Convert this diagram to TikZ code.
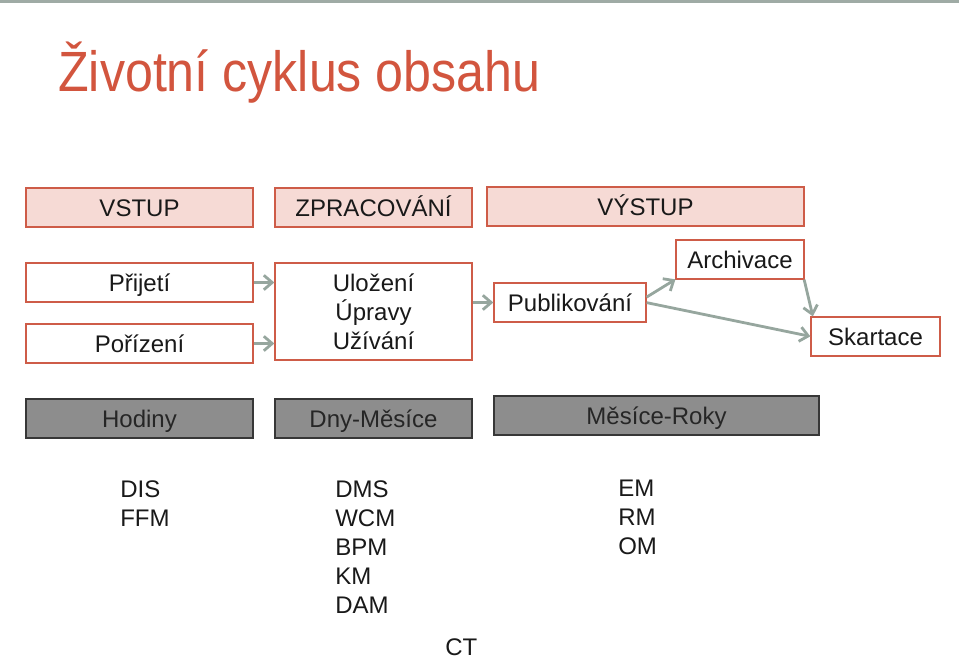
\documentclass[tikz,border=0pt]{standalone}
\usepackage{fontspec}
\setmainfont{Liberation Sans}
\usetikzlibrary{arrows.meta, positioning}
\definecolor{titleRed}{RGB}{210,85,62}
\definecolor{boxRed}{RGB}{206,92,72}
\definecolor{boxPink}{RGB}{246,218,213}
\definecolor{arrowGrey}{RGB}{150,166,158}
\definecolor{barGrey}{RGB}{141,141,141}
\definecolor{barEdge}{RGB}{55,55,55}
\tikzset{%
  >={Straight Barb[length=2.2mm,width=3.8mm]},
  % Specifications for style of nodes:
    base/.style = {rectangle, draw=boxRed, line width=1.5pt, minimum height=29.25pt,
                   inner sep=0pt, outer sep=0pt, text centered, text=black!90,
                   text height=13pt, text depth=0pt,
                   font=\fontsize{18}{21.75}\selectfont},
    phase/.style = {base, fill=boxPink},
    stage/.style = {base, fill=white},
    period/.style = {base, draw=barEdge, fill=barGrey, text=black!85},
    tools/.style = {inner sep=0pt, align=left, anchor=north west, text=black!90,
                   font=\fontsize{18}{21.75}\selectfont},
    flow/.style = {->, draw=arrowGrey, line width=2.1pt, shorten <=0.5pt, shorten >=0.5pt},
}

\begin{document}
\begin{tikzpicture}[x=0.75pt, y=-0.75pt]
  \useasboundingbox (0,0) rectangle (959,660);
  \fill[arrowGrey!90!black!80] (0,0) rectangle (959,3);
  \node (title) [anchor=base west, text=titleRed, font=\fontsize{38}{40}\selectfont, inner sep=0pt]
        at (58,91) {\scalebox{0.99}[1.12]{Životní cyklus obsahu}};

  \node (vstup)      [phase, minimum width=170.25pt] at (139.5,207.5) {VSTUP};
  \node (zpracovani) [phase, minimum width=147.75pt, right=16.5pt of vstup] {ZPRACOVÁNÍ};
  \node (vystup)     [phase, minimum width=237.75pt, right=11.25pt of zpracovani, yshift=0.75pt] {VÝSTUP};

  \node (prijeti)    [stage, minimum width=170.25pt, below=27pt of vstup] {Přijetí};
  \node (porizeni)   [stage, minimum width=170.25pt, below=16.5pt of prijeti] {Pořízení};
  \node (ulozeni)    [stage, minimum width=147.75pt, minimum height=72.75pt, align=center,
                      text height=, text depth=, below=27pt of zpracovani] {Uložení\\Úpravy\\Užívání};
  \node (publikovani) [stage, minimum width=114pt, right=16.5pt of ulozeni, yshift=6.75pt] {Publikování};
  \node (archivace)  [stage, minimum width=96pt, below=10.5pt of vystup.south east, anchor=north east]
                                                                {Archivace};
  \node (skartace)   [stage, minimum width=96.75pt, below right=28.5pt and 5.25pt of archivace.south east]
                                                                {Skartace};

  \node (hodiny)     [period, minimum width=170.25pt, below=27pt of porizeni] {Hodiny};
  \node (dnyMesice)  [period, minimum width=147.75pt, right=16.5pt of hodiny] {Dny-Měsíce};
  \node (mesiceRoky) [period, minimum width=243.75pt, right=16.5pt of dnyMesice, yshift=2.25pt]
                                                                {Měsíce-Roky};

  \node (toolsIn)    [tools] at (120,480) {DIS\\FFM};
  \node (toolsProc)  [tools] at (335,480) {DMS\\WCM\\BPM\\KM\\DAM};
  \node (toolsOut)   [tools] at (618,480) {EM\\RM\\OM};
  \node (toolsAll)   [tools] at (445,638) {CT};

  % Specification of lines between nodes
  \draw[flow]   (prijeti.east) -- (prijeti.east -| ulozeni.west);
  \draw[flow]   (porizeni.east) -- (porizeni.east -| ulozeni.west);
  \draw[flow]   (ulozeni.east |- publikovani) -- (publikovani.west);
  \draw[flow]   ([yshift=3.75pt]publikovani.east) -- (archivace.south west);
  \draw[flow]   (publikovani.east) -- (skartace.west);
  \draw[flow]   (archivace.south east) -- ([xshift=1.5pt]skartace.north west);
\end{tikzpicture}
\end{document}
